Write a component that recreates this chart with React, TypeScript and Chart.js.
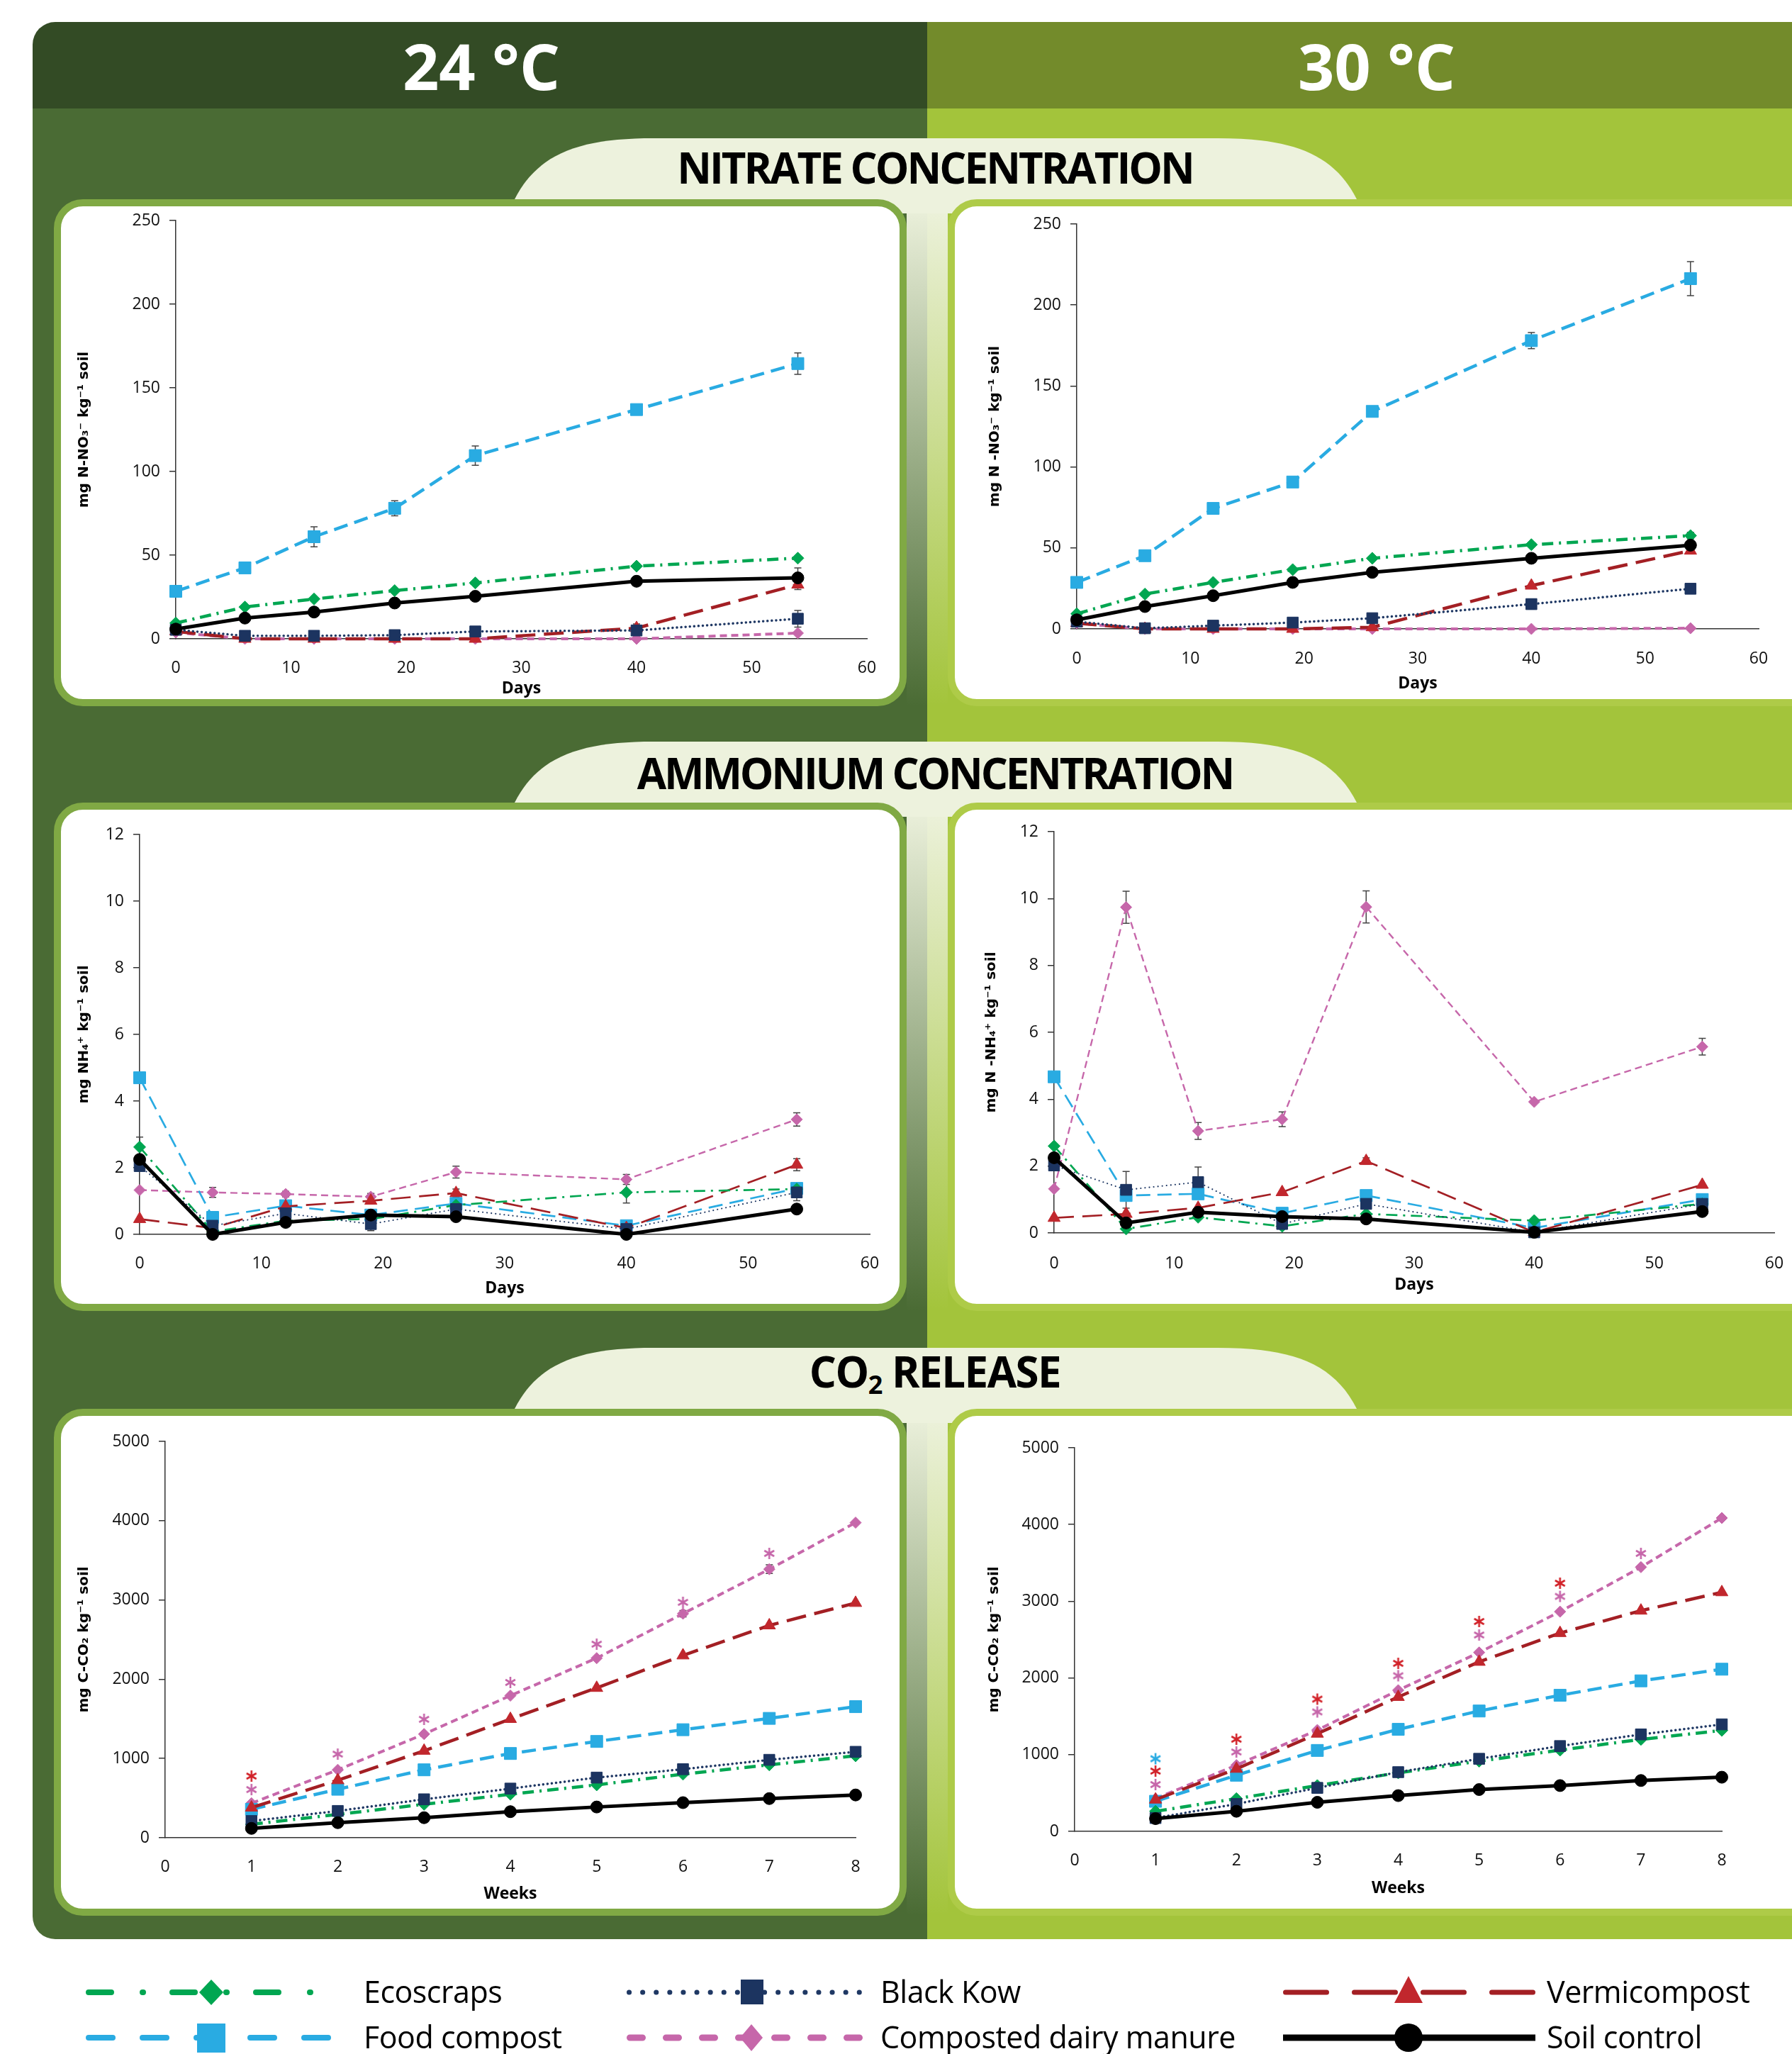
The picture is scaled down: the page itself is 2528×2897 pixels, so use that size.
import React, { useEffect, useRef } from "react";
import { Chart, registerables } from "chart.js";

Chart.register(...registerables);

// ---------------- DATA ----------------
const days = [0, 6, 12, 19, 26, 40, 54];
const weeks = [1, 2, 3, 4, 5, 6, 7, 8];

// Nitrate, 24 °C (mg N-NO3 / kg soil)
const no3_24_eco = [9.4, 19, 23.8, 28.8, 33.4, 43.4, 48.2];
const no3_24_kow = [5.4, 1.8, 1.8, 2.2, 4.4, 5, 12];
const no3_24_verm = [4.4, 0, 0, 0, 0, 6.4, 32.4];
const no3_24_food = [28.4, 42.4, 61, 78, 109.5, 137, 164.5];
const no3_24_manure = [3.8, 0, 0, 0, 0, 0, 3.4];
const no3_24_soil = [5.8, 12.4, 16, 21.4, 25.4, 34.4, 36.4];
const no3_24_food_err = [0, 1, 6, 4.5, 5.8, 2, 6.4];
const no3_24_soil_err = [0, 0, 0, 0, 0, 0, 6];
const no3_24_verm_err = [0, 0, 0, 0, 0, 2.5, 3];
const no3_24_kow_err = [0, 0, 0, 0, 0, 0, 5];

// Nitrate, 30 °C
const no3_30_eco = [9.3, 21.5, 28.7, 36.6, 43.6, 52, 57.6];
const no3_30_kow = [4.5, 0.4, 2, 3.9, 6.6, 15.3, 24.8];
const no3_30_verm = [3.5, 0, 0, 0, 1, 26.7, 48.3];
const no3_30_food = [28.7, 45.2, 74.4, 90.7, 134.3, 178, 216.3];
const no3_30_manure = [3.5, 0, 0, 0, 0, 0, 0.4];
const no3_30_soil = [5.6, 13.8, 20.5, 28.7, 34.9, 43.6, 51.7];
const no3_30_food_err = [0, 0, 0, 0, 1.5, 5, 10.5];
const no3_30_kow_err = [0, 0, 0, 0, 0, 3, 2.5];
const no3_30_eco_err = [0, 0, 0, 0, 0, 0, 2];

// Ammonium, 24 °C (mg NH4 / kg soil)
const nh4_24_eco = [2.62, 0.08, 0.41, 0.46, 0.88, 1.26, 1.36];
const nh4_24_kow = [2.05, 0.26, 0.63, 0.31, 0.76, 0.16, 1.26];
const nh4_24_verm = [0.46, 0.19, 0.84, 1.01, 1.24, 0.19, 2.09];
const nh4_24_food = [4.7, 0.51, 0.86, 0.58, 0.93, 0.26, 1.38];
const nh4_24_manure = [1.33, 1.26, 1.21, 1.13, 1.87, 1.65, 3.45];
const nh4_24_soil = [2.25, 0, 0.36, 0.58, 0.53, 0, 0.76];
const nh4_24_manure_err = [0, 0.15, 0.08, 0.1, 0.18, 0.15, 0.2];
const nh4_24_eco_err = [0.3, 0, 0, 0, 0, 0.32, 0];
const nh4_24_verm_err = [0, 0, 0, 0, 0.12, 0, 0.18];
const nh4_24_kow_err = [0, 0, 0.25, 0.2, 0, 0, 0.25];

// Ammonium, 30 °C (mg N-NH4 / kg soil)
const nh4_30_eco = [2.6, 0.12, 0.47, 0.2, 0.57, 0.37, 0.87];
const nh4_30_kow = [2.02, 1.29, 1.52, 0.27, 0.87, 0.02, 0.87];
const nh4_30_verm = [0.45, 0.57, 0.75, 1.22, 2.15, 0.02, 1.44];
const nh4_30_food = [4.67, 1.12, 1.17, 0.59, 1.12, 0.15, 1.0];
const nh4_30_manure = [1.32, 9.74, 3.05, 3.4, 9.75, 3.92, 5.57];
const nh4_30_soil = [2.25, 0.3, 0.62, 0.49, 0.42, 0.02, 0.64];
const nh4_30_manure_err = [0, 0.48, 0.25, 0.22, 0.48, 0, 0.25];
const nh4_30_kow_err = [0, 0.55, 0.45, 0, 0, 0, 0];
const nh4_30_verm_err = [0, 0, 0, 0, 0.1, 0, 0];

// CO2 release, 24 °C (mg C-CO2 / kg soil)
const co2_24_eco = [169, 295, 422, 549, 667, 802, 920, 1034];
const co2_24_kow = [211, 338, 485, 620, 759, 865, 983, 1084];
const co2_24_verm = [380, 726, 1097, 1498, 1890, 2300, 2679, 2962];
const co2_24_food = [359, 612, 857, 1063, 1215, 1363, 1506, 1654];
const co2_24_manure = [435, 857, 1308, 1793, 2266, 2827, 3388, 3975];
const co2_24_soil = [118, 190, 253, 329, 388, 443, 494, 540];
const co2_24_manure_err = [0, 0, 0, 0, 0, 40, 55, 0];
// significance asterisks, 24 °C
const co2_24_starPink_weeks = [1, 2, 3, 4, 5, 6, 7];
const co2_24_starPink = [608, 1055, 1494, 1959, 2442, 2970, 3587];
const co2_24_starRed_weeks = [1];
const co2_24_starRed = [778];

// CO2 release, 30 °C
const co2_30_eco = [262, 427, 597, 763, 915, 1059, 1199, 1316];
const co2_30_kow = [174, 357, 567, 772, 946, 1112, 1264, 1395];
const co2_30_verm = [414, 815, 1273, 1752, 2210, 2585, 2877, 3117];
const co2_30_food = [392, 732, 1055, 1330, 1569, 1774, 1962, 2114];
const co2_30_manure = [427, 863, 1321, 1840, 2332, 2864, 3444, 4085];
const co2_30_soil = [166, 262, 379, 466, 545, 597, 663, 706];
// significance asterisks, 30 °C
const co2_30_starBlue_weeks = [1];
const co2_30_starBlue = [947];
const co2_30_starRed_weeks = [1, 2, 3, 4, 5, 6];
const co2_30_starRed = [786, 1201, 1724, 2190, 2736, 3235];
const co2_30_starPink_weeks = [1, 2, 3, 4, 5, 6, 7];
const co2_30_starPink = [610, 1035, 1557, 2029, 2560, 3063, 3623];

const legendLabels = {
  eco: "Ecoscraps",
  kow: "Black Kow",
  verm: "Vermicompost",
  food: "Food compost",
  manure: "Composted dairy manure",
  soil: "Soil control",
};

// ---------------- STYLES ----------------
type Key = "eco" | "kow" | "verm" | "food" | "manure" | "soil";

const STYLE: Record<Key, any> = {
  soil: { color: "#000000", pColor: "#000000", width: 5, dash: [], cap: "butt", marker: "circle", radius: 8.5, thin: false },
  kow: { color: "#1f3864", pColor: "#1c3460", width: 3.5, dash: [0.1, 6], cap: "round", marker: "rect", radius: 11, thin: true },
  eco: { color: "#00a651", pColor: "#00a651", width: 4.5, dash: [16, 8, 3, 8], cap: "butt", marker: "rectRot", radius: 8.5, thin: true },
  food: { color: "#29abe2", pColor: "#29abe2", width: 4.5, dash: [20, 10], cap: "butt", marker: "rect", radius: 12, thin: true },
  verm: { color: "#a31f24", pColor: "#c1272d", width: 4.5, dash: [28, 12], cap: "butt", marker: "triangle", radius: 10, thin: true },
  manure: { color: "#c667aa", pColor: "#c667aa", width: 4, dash: [10, 6], cap: "butt", marker: "rectRot", radius: 8, thin: true },
};

const TICK_FONT = { family: "'Open Sans', 'DejaVu Sans', sans-serif", size: 23 };
const XTITLE_FONT = { family: "'Open Sans', 'DejaVu Sans', sans-serif", size: 23, weight: "bold" as const };
const YTITLE_FONT = { family: "'DejaVu Sans', sans-serif", size: 20, weight: "bold" as const };

type Series = { key: Key; xs: number[]; ys: number[]; err?: number[] };
type Star = { color: string; xs: number[]; ys: number[] };

type PanelSpec = {
  left: number; right: number; top: number; bottom: number;
  yTitleX: number; xLabelY: number; xTitleY: number;
  xMax: number; xStep: number; yMax: number; yStep: number;
  yTitle: string; xTitle: string; thinScale: number;
  series: Series[]; stars?: Star[];
};

const PANELS: PanelSpec[] = [
  {
    left: 248, right: 1223, top: 311, bottom: 901, yTitleX: 119, xLabelY: 934, xTitleY: 971,
    xMax: 60, xStep: 10, yMax: 250, yStep: 50, yTitle: "mg N-NO₃⁻ kg⁻¹ soil", xTitle: "Days", thinScale: 1,
    series: [
      { key: "soil", xs: days, ys: no3_24_soil, err: no3_24_soil_err },
      { key: "kow", xs: days, ys: no3_24_kow, err: no3_24_kow_err },
      { key: "eco", xs: days, ys: no3_24_eco },
      { key: "verm", xs: days, ys: no3_24_verm, err: no3_24_verm_err },
      { key: "food", xs: days, ys: no3_24_food, err: no3_24_food_err },
      { key: "manure", xs: days, ys: no3_24_manure },
    ],
  },
  {
    left: 1519, right: 2481, top: 316, bottom: 887, yTitleX: 1404, xLabelY: 921, xTitleY: 964,
    xMax: 60, xStep: 10, yMax: 250, yStep: 50, yTitle: "mg N -NO₃⁻ kg⁻¹ soil", xTitle: "Days", thinScale: 1,
    series: [
      { key: "soil", xs: days, ys: no3_30_soil },
      { key: "kow", xs: days, ys: no3_30_kow, err: no3_30_kow_err },
      { key: "eco", xs: days, ys: no3_30_eco, err: no3_30_eco_err },
      { key: "verm", xs: days, ys: no3_30_verm },
      { key: "food", xs: days, ys: no3_30_food, err: no3_30_food_err },
      { key: "manure", xs: days, ys: no3_30_manure },
    ],
  },
  {
    left: 197, right: 1227, top: 1177, bottom: 1741, yTitleX: 119, xLabelY: 1774, xTitleY: 1817,
    xMax: 60, xStep: 10, yMax: 12, yStep: 2, yTitle: "mg NH₄⁺ kg⁻¹ soil", xTitle: "Days", thinScale: 0.6,
    series: [
      { key: "soil", xs: days, ys: nh4_24_soil },
      { key: "kow", xs: days, ys: nh4_24_kow, err: nh4_24_kow_err },
      { key: "eco", xs: days, ys: nh4_24_eco, err: nh4_24_eco_err },
      { key: "verm", xs: days, ys: nh4_24_verm, err: nh4_24_verm_err },
      { key: "food", xs: days, ys: nh4_24_food },
      { key: "manure", xs: days, ys: nh4_24_manure, err: nh4_24_manure_err },
    ],
  },
  {
    left: 1487, right: 2503, top: 1173, bottom: 1739, yTitleX: 1399, xLabelY: 1774, xTitleY: 1812,
    xMax: 60, xStep: 10, yMax: 12, yStep: 2, yTitle: "mg N -NH₄⁺ kg⁻¹ soil", xTitle: "Days", thinScale: 0.6,
    series: [
      { key: "soil", xs: days, ys: nh4_30_soil },
      { key: "kow", xs: days, ys: nh4_30_kow, err: nh4_30_kow_err },
      { key: "eco", xs: days, ys: nh4_30_eco },
      { key: "verm", xs: days, ys: nh4_30_verm, err: nh4_30_verm_err },
      { key: "food", xs: days, ys: nh4_30_food },
      { key: "manure", xs: days, ys: nh4_30_manure, err: nh4_30_manure_err },
    ],
  },
  {
    left: 233, right: 1207, top: 2033, bottom: 2592, yTitleX: 119, xLabelY: 2625, xTitleY: 2671,
    xMax: 8, xStep: 1, yMax: 5000, yStep: 1000, yTitle: "mg C-CO₂ kg⁻¹ soil", xTitle: "Weeks", thinScale: 1,
    series: [
      { key: "soil", xs: weeks, ys: co2_24_soil },
      { key: "kow", xs: weeks, ys: co2_24_kow },
      { key: "eco", xs: weeks, ys: co2_24_eco },
      { key: "verm", xs: weeks, ys: co2_24_verm },
      { key: "food", xs: weeks, ys: co2_24_food },
      { key: "manure", xs: weeks, ys: co2_24_manure, err: co2_24_manure_err },
    ],
    stars: [
      { color: "#c667aa", xs: co2_24_starPink_weeks, ys: co2_24_starPink },
      { color: "#d2232a", xs: co2_24_starRed_weeks, ys: co2_24_starRed },
    ],
  },
  {
    left: 1516, right: 2429, top: 2042, bottom: 2583, yTitleX: 1403, xLabelY: 2616, xTitleY: 2663,
    xMax: 8, xStep: 1, yMax: 5000, yStep: 1000, yTitle: "mg C-CO₂ kg⁻¹ soil", xTitle: "Weeks", thinScale: 1,
    series: [
      { key: "soil", xs: weeks, ys: co2_30_soil },
      { key: "kow", xs: weeks, ys: co2_30_kow },
      { key: "eco", xs: weeks, ys: co2_30_eco },
      { key: "verm", xs: weeks, ys: co2_30_verm },
      { key: "food", xs: weeks, ys: co2_30_food },
      { key: "manure", xs: weeks, ys: co2_30_manure },
    ],
    stars: [
      { color: "#29abe2", xs: co2_30_starBlue_weeks, ys: co2_30_starBlue },
      { color: "#d2232a", xs: co2_30_starRed_weeks, ys: co2_30_starRed },
      { color: "#c667aa", xs: co2_30_starPink_weeks, ys: co2_30_starPink },
    ],
  },
];

// ---------------- HELPERS ----------------
function makeAsterisk(color: string): HTMLCanvasElement {
  const c = document.createElement("canvas");
  c.width = 22;
  c.height = 22;
  const ctx = c.getContext("2d")!;
  ctx.strokeStyle = color;
  ctx.lineWidth = 2.6;
  const cx = 11, cy = 11, r = 8;
  for (let k = 0; k < 3; k++) {
    const a = Math.PI / 2 + (k * Math.PI) / 3;
    ctx.beginPath();
    ctx.moveTo(cx - r * Math.cos(a), cy - r * Math.sin(a));
    ctx.lineTo(cx + r * Math.cos(a), cy + r * Math.sin(a));
    ctx.stroke();
  }
  return c;
}

const errorBarPlugin = {
  id: "errorBars",
  beforeDatasetsDraw(chart: any) {
    const ctx = chart.ctx;
    const xs = chart.scales.x;
    const ys = chart.scales.y;
    chart.data.datasets.forEach((ds: any) => {
      if (!ds.errors) return;
      ds.data.forEach((p: any, j: number) => {
        const e = ds.errors[j];
        if (!e) return;
        const x = xs.getPixelForValue(p.x);
        const y1 = ys.getPixelForValue(p.y + e);
        const y2 = ys.getPixelForValue(Math.max(0, p.y - e));
        ctx.save();
        ctx.strokeStyle = "#444";
        ctx.lineWidth = 1.5;
        ctx.beginPath();
        ctx.moveTo(x, y1);
        ctx.lineTo(x, y2);
        ctx.moveTo(x - 5, y1);
        ctx.lineTo(x + 5, y1);
        ctx.moveTo(x - 5, y2);
        ctx.lineTo(x + 5, y2);
        ctx.stroke();
        ctx.restore();
      });
    });
  },
};

function geometry(p: PanelSpec) {
  const tLH = YTITLE_FONT.size * 1.2;
  const xLH = XTITLE_FONT.size * 1.2;
  const tickLH = TICK_FONT.size * 1.2;
  const cl = Math.round(p.yTitleX - tLH / 2);
  const L = p.left - cl;
  const T = 30;
  const R = 40;
  const B = Math.round(p.xTitleY - p.bottom + xLH / 2);
  const ct = p.top - T;
  const w = p.right + R - cl;
  const h = p.bottom + B - ct;
  const xPad = p.xLabelY - p.bottom - tickLH / 2;
  return { cl, ct, w, h, L, T, R, B, xPad };
}

function ChartPanel({ spec }: { spec: PanelSpec }) {
  const ref = useRef<HTMLCanvasElement>(null);
  const g = geometry(spec);
  useEffect(() => {
    const datasets: any[] = [];
    (spec.stars || []).forEach((st) => {
      datasets.push({
        label: "sig",
        data: st.xs.map((x, i) => ({ x, y: st.ys[i] })),
        showLine: false,
        pointStyle: makeAsterisk(st.color),
        pointRadius: 10,
        clip: false,
      });
    });
    spec.series.forEach((s) => {
      const st = STYLE[s.key];
      const scale = st.thin ? spec.thinScale : 1;
      datasets.push({
        label: legendLabels[s.key],
        data: s.xs.map((x, i) => ({ x, y: s.ys[i] })),
        errors: s.err,
        borderColor: st.color,
        borderWidth: st.width * scale,
        borderDash: st.dash,
        borderCapStyle: st.cap,
        pointStyle: st.marker,
        pointRadius: st.radius,
        pointBackgroundColor: st.pColor,
        pointBorderColor: st.pColor,
        pointBorderWidth: 1,
        tension: 0,
        fill: false,
        clip: false,
      });
    });

    const chart = new Chart(ref.current!, {
      type: "line",
      data: { datasets },
      plugins: [errorBarPlugin],
      options: {
        animation: false,
        responsive: false,
        maintainAspectRatio: false,
        devicePixelRatio: 1,
        events: [],
        layout: { padding: { left: 0, top: g.T, right: g.R, bottom: 0 } },
        plugins: { legend: { display: false }, tooltip: { enabled: false } },
        scales: {
          x: {
            type: "linear",
            min: 0,
            max: spec.xMax,
            ticks: {
              stepSize: spec.xStep, padding: g.xPad, color: "#111", font: TICK_FONT, maxRotation: 0, autoSkip: false,
              callback: (v: any) => String(v),
            },
            grid: { display: false },
            border: { display: true, color: "#333", width: 1.5 },
            title: { display: true, text: spec.xTitle, color: "#000", font: XTITLE_FONT, padding: 0 },
            afterFit: (s: any) => { s.height = g.B; },
          },
          y: {
            type: "linear",
            min: 0,
            max: spec.yMax,
            ticks: { stepSize: spec.yStep, padding: 13, color: "#111", font: TICK_FONT, callback: (v: any) => String(v) },
            grid: { display: true, drawOnChartArea: false, drawTicks: true, tickLength: 9, color: "#333", lineWidth: 1.5 },
            border: { display: true, color: "#333", width: 1.5 },
            title: { display: true, text: spec.yTitle, color: "#000", font: YTITLE_FONT, padding: 0 },
            afterFit: (s: any) => { s.width = g.L; },
          },
        },
      } as any,
    });
    return () => chart.destroy();
  }, []);
  return (
    <canvas
      ref={ref}
      width={g.w}
      height={g.h}
      style={{ position: "absolute", left: g.cl, top: g.ct, width: g.w, height: g.h }}
    />
  );
}

// ---------------- BACKGROUND ----------------
const ROWS = [
  { top: 281, bottom: 996 },
  { top: 1132, bottom: 1849 },
  { top: 1987, bottom: 2702 },
];

function tabPath(top: number, bottom: number) {
  const cx = 1320, hb = 594, ht = 398;
  const H = bottom - top;
  const k = H * 0.24;
  return [
    `M ${cx - hb} ${bottom + 20}`,
    `L ${cx - hb} ${bottom}`,
    `C ${cx - hb + 33} ${top + k} ${cx - hb + 93} ${top} ${cx - ht} ${top}`,
    `L ${cx + ht} ${top}`,
    `C ${cx + hb - 93} ${top} ${cx + hb - 33} ${top + k} ${cx + hb} ${bottom}`,
    `L ${cx + hb} ${bottom + 20}`,
    "Z",
  ].join(" ");
}

function Background() {
  return (
    <svg width={2528} height={2897} style={{ position: "absolute", left: 0, top: 0 }}>
      <defs>
        <clipPath id="outerClip">
          <rect x={46} y={31} width={2650} height={2704} rx={32} ry={32} />
        </clipPath>
        <linearGradient id="gapGrad" x1="0" y1="0" x2="0" y2="1">
          <stop offset="0" stopColor="#edf2dd" stopOpacity={1} />
          <stop offset="1" stopColor="#edf2dd" stopOpacity={0} />
        </linearGradient>
      </defs>
      <g clipPath="url(#outerClip)">
        <rect x={0} y={0} width={1308} height={153} fill="#334b25" />
        <rect x={1308} y={0} width={1400} height={153} fill="#738b2b" />
        <rect x={0} y={153} width={1308} height={2700} fill="#4a6b34" />
        <rect x={1308} y={153} width={1400} height={2700} fill="#a3c43b" />
        {ROWS.map((r, i) => (
          <path key={"tab" + i} d={tabPath(r.top - 86, r.top)} fill="#edf2dd" />
        ))}
        {ROWS.map((r, i) => (
          <rect key={"gap" + i} x={1279} y={r.top} width={58} height={r.bottom - r.top} fill="url(#gapGrad)" />
        ))}
        {ROWS.map((r, i) => (
          <g key={"pan" + i}>
            <rect x={81} y={r.top + 5} width={1193} height={r.bottom - r.top - 10} rx={36} ry={36}
              fill="#ffffff" stroke="#80a944" strokeWidth={10} />
            <rect x={1342} y={r.top + 5} width={1300} height={r.bottom - r.top - 10} rx={36} ry={36}
              fill="#ffffff" stroke="#aecb48" strokeWidth={10} />
          </g>
        ))}
      </g>
    </svg>
  );
}

// ---------------- TEXT ----------------
const HEAD_FONT = "'Open Sans', 'DejaVu Sans', sans-serif";

function CenterText({ x, y, size, color, children, spacing = 0 }: any) {
  return (
    <div
      style={{
        position: "absolute",
        left: x,
        top: y - 0.03 * size,
        transform: "translate(-50%, -50%)",
        fontFamily: HEAD_FONT,
        fontWeight: 700,
        fontSize: size,
        lineHeight: 1,
        color,
        whiteSpace: "nowrap",
        letterSpacing: spacing,
      }}
    >
      {children}
    </div>
  );
}

// ---------------- LEGEND ----------------
const LEGEND_ITEMS: { key: Key; x1: number; x2: number; mx: number; tx: number; y: number }[] = [
  { key: "eco", x1: 121, x2: 444, mx: 298, tx: 513, y: 2810 },
  { key: "kow", x1: 884, x2: 1234, mx: 1061, tx: 1242, y: 2810 },
  { key: "verm", x1: 1810, x2: 2166, mx: 1987, tx: 2182, y: 2810 },
  { key: "food", x1: 121, x2: 476, mx: 298, tx: 513, y: 2874 },
  { key: "manure", x1: 884, x2: 1218, mx: 1060, tx: 1242, y: 2874 },
  { key: "soil", x1: 1810, x2: 2166, mx: 1987, tx: 2182, y: 2874 },
];

const LEGEND_LINE: Record<Key, { dash: string; width: number; cap: "round" | "butt" }> = {
  eco: { dash: "32 44 1 41", width: 8, cap: "round" },
  kow: { dash: "0.1 19", width: 7, cap: "round" },
  verm: { dash: "58 39", width: 7, cap: "round" },
  food: { dash: "34 42", width: 8, cap: "round" },
  manure: { dash: "18 33", width: 9, cap: "round" },
  soil: { dash: "", width: 9, cap: "butt" },
};

function LegendMarker({ k, x, y }: { k: Key; x: number; y: number }) {
  const c = STYLE[k].pColor;
  switch (k) {
    case "eco":
      return <polygon points={`${x},${y - 18} ${x + 17},${y} ${x},${y + 18} ${x - 17},${y}`} fill={c} />;
    case "manure":
      return <polygon points={`${x},${y - 19} ${x + 16},${y} ${x},${y + 19} ${x - 16},${y}`} fill={c} />;
    case "food":
      return <rect x={x - 20} y={y - 20} width={40} height={41} fill={c} />;
    case "kow":
      return <rect x={x - 16} y={y - 18} width={32} height={35} fill={c} />;
    case "verm":
      return <polygon points={`${x},${y - 23} ${x + 20},${y + 15} ${x - 20},${y + 15}`} fill={c} />;
    default:
      return <circle cx={x} cy={y} r={20} fill={c} />;
  }
}

function Legend() {
  return (
    <>
      <svg width={2528} height={2897} style={{ position: "absolute", left: 0, top: 0, pointerEvents: "none" }}>
        {LEGEND_ITEMS.map((it) => {
          const ls = LEGEND_LINE[it.key];
          const cap = ls.cap === "round" ? ls.width / 2 : 0;
          return (
            <g key={it.key}>
              <line
                x1={it.x1 + cap}
                y1={it.y}
                x2={it.x2 - cap}
                y2={it.y}
                stroke={STYLE[it.key].color}
                strokeWidth={ls.width}
                strokeDasharray={ls.dash || undefined}
                strokeLinecap={ls.cap}
              />
              <LegendMarker k={it.key} x={it.mx} y={it.y} />
            </g>
          );
        })}
      </svg>
      {LEGEND_ITEMS.map((it) => (
        <div
          key={"t" + it.key}
          style={{
            position: "absolute",
            left: it.tx,
            top: it.y - 0.531 * 43,
            fontFamily: HEAD_FONT,
            fontSize: 43,
            lineHeight: 1,
            color: "#000",
            whiteSpace: "nowrap",
            letterSpacing: -0.5,
          }}
        >
          {legendLabels[it.key]}
        </div>
      ))}
    </>
  );
}

// ---------------- APP ----------------
export default function App() {
  useEffect(() => {
    document.body.style.margin = "0";
    document.body.style.overflow = "hidden";
  }, []);
  return (
    <div style={{ position: "absolute", left: 0, top: 0, width: 2528, height: 2897, overflow: "hidden", background: "#ffffff" }}>
      <Background />
      <CenterText x={679} y={95} size={90} color="#ffffff">24 °C</CenterText>
      <CenterText x={1942} y={95} size={90} color="#ffffff">30 °C</CenterText>
      <CenterText x={1319} y={238} size={60} color="#000000" spacing={-3}>NITRATE CONCENTRATION</CenterText>
      <CenterText x={1319} y={1092} size={60} color="#000000" spacing={-3.2}>AMMONIUM CONCENTRATION</CenterText>
      <CenterText x={1319} y={1939} size={60} color="#000000" spacing={-1.5}>
        CO<sub style={{ fontSize: 36, verticalAlign: "-0.25em" }}>2</sub> RELEASE
      </CenterText>
      {PANELS.map((p, i) => (
        <ChartPanel key={i} spec={p} />
      ))}
      <Legend />
    </div>
  );
}
